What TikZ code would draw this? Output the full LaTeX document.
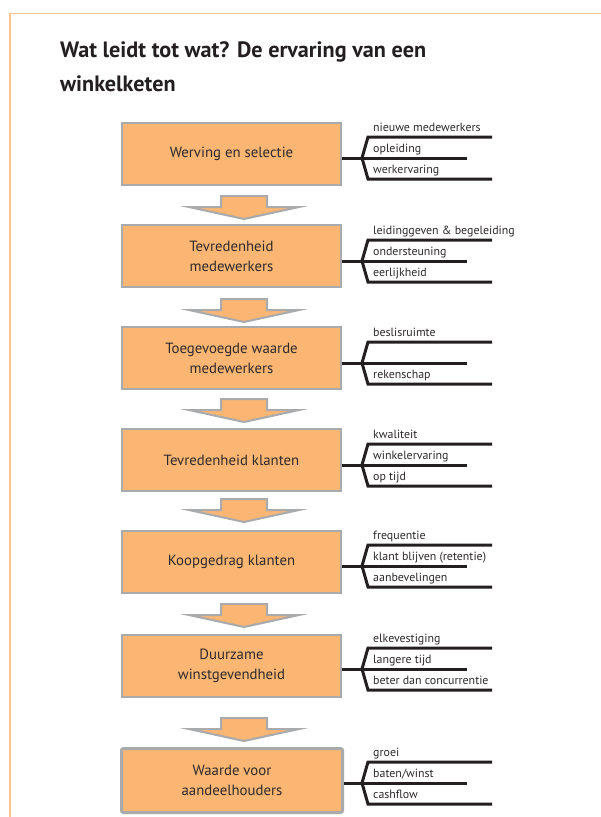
\documentclass[tikz,border=0pt]{standalone}
\usepackage{fontspec}
\setmainfont{PT Sans}
\definecolor{frameor}{HTML}{FCC38C}
\definecolor{boxor}{HTML}{FBB673}
\definecolor{boxgray}{HTML}{A9AAAC}
\definecolor{ink}{HTML}{231F20}
\definecolor{txt}{HTML}{2E2A2B}
\tikzset{
  box/.style={draw=boxgray, fill=boxor, line width=2pt, minimum width=219pt, minimum height=62pt,
    inner sep=0pt, align=center, font=\fontsize{14.8}{20}\selectfont, text=txt},
  flowarrow/.style={draw=boxgray, fill=boxor, line width=2pt, line join=miter},
  brkline/.style={draw=ink, line width=3pt},
  lab/.style={anchor=base west, inner sep=0pt, font=\fontsize{11.9}{13}\selectfont, text=txt},
  ttl/.style={anchor=base west, inner sep=0pt, font=\bfseries\fontsize{22.2}{25}\selectfont, text=ink},
}
\newcommand\brk[5]{%
  \coordinate (#1m) at (#1.east |- 0,#2);
  \coordinate (#1j) at (362,#2);
  \coordinate (#1t) at (368,#2-21);
  \coordinate (#1b) at (368,#2+21);
  \coordinate (#1te) at (492,#2-21);
  \coordinate (#1me) at (467,#2);
  \coordinate (#1be) at (492,#2+21);
  \draw[brkline] (#1m) -- (#1me);
  \draw[brkline] (#1te) -- (#1t) -- (#1j) -- (#1b) -- (#1be);
  \node[lab] (#1l1) at (373,#2-26.5) {#3};
  \node[lab] (#1l2) at (373,#2-6) {#4};
  \node[lab] (#1l3) at (373,#2+15) {#5};
}
\newcommand\farrow[1]{% #1 = top y of shaft
  \draw[flowarrow] (221,#1) -- (267,#1) -- (267,#1+11) -- (299,#1+11) -- (244,#1+23)
     -- (189,#1+11) -- (221,#1+11) -- cycle;
}
\begin{document}
\begin{tikzpicture}[x=1pt,y=-1pt]
\useasboundingbox (0,0) rectangle (601,817);
\fill[white] (0,0) rectangle (601,817);
% frame
\draw[frameor, line width=1.6pt] (10,830) -- (10,13.5) -- (620,13.5);
% title
\node[ttl] (t1) at (60,57) {Wat leidt tot wat? De ervaring van een};
\node[ttl] (t2) at (60,91) {winkelketen};
% boxes
\node[box] (b1) at (231.5,154) {Werving en selectie};
\node[box] (b2) at (231.5,256) {Tevredenheid\\medewerkers};
\node[box] (b3) at (231.5,358) {Toegevoegde waarde\\medewerkers};
\node[box] (b4) at (231.5,460) {Tevredenheid klanten};
\node[box] (b5) at (231.5,561.5) {Koopgedrag klanten};
\node[box] (b6) at (231.5,666) {Duurzame\\winstgevendheid};
\node[box, line width=3pt, rounded corners=2pt, minimum width=221pt, minimum height=64pt] (b7) at (232,780.5) {Waarde voor\\aandeelhouders};
% arrows
\farrow{196}
\farrow{299}
\farrow{399}
\farrow{499}
\farrow{604}
\farrow{718}
% brackets
\brk{b1}{158}{nieuwe medewerkers}{opleiding}{werkervaring}
\brk{b2}{261}{leidinggeven \& begeleiding}{ondersteuning}{eerlijkheid}
\brk{b3}{363}{beslisruimte}{}{rekenschap}
\brk{b4}{465}{kwaliteit}{winkelervaring}{op tijd}
\brk{b5}{566}{frequentie}{klant blijven (retentie)}{aanbevelingen}
\brk{b6}{669}{elkevestiging}{langere tijd}{beter dan concurrentie}
\brk{b7}{783}{groei}{baten/winst}{cashflow}
\end{tikzpicture}
\end{document}
